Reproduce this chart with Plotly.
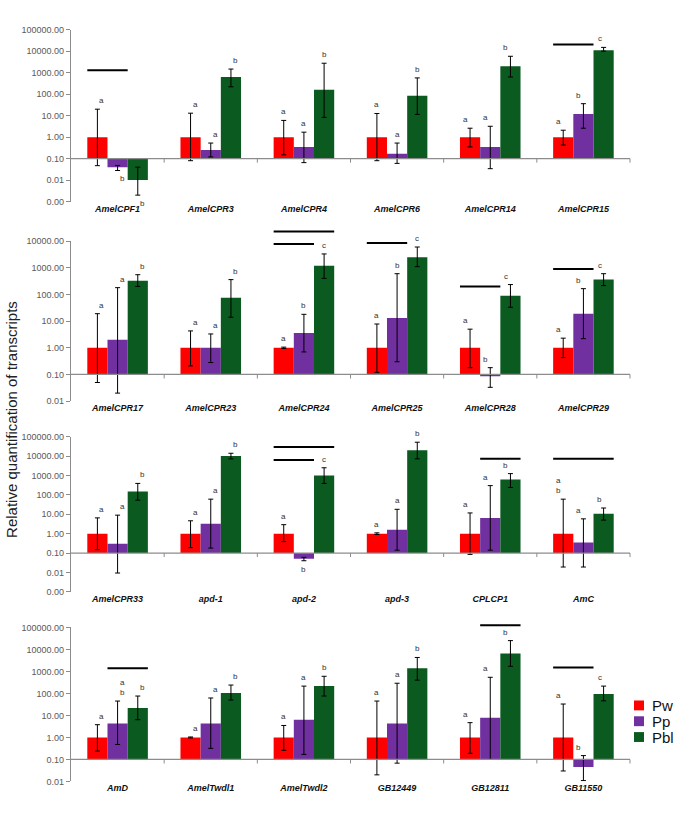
import numpy as np
import plotly.graph_objects as go

series_names = ["Pw", "Pp", "Pbl"]
colors = ["#FF0000", "#7030A0", "#0B5A1F"]
BASE = 0.1
tick_vals = [0.001, 0.01, 0.1, 1, 10, 100, 1000, 10000, 100000]

# ---------------- Panel 1 ----------------
genes_1 = ["AmelCPF1", "AmelCPR3", "AmelCPR4", "AmelCPR6", "AmelCPR14", "AmelCPR15"]
pw_1 = [1, 1, 1, 1, 1, 1]
pw_hi_1 = [20, 13, 6, 12.6, 2.6, 2.1]
pw_lo_1 = [0.047, 0.08, 0.15, 0.08, 0.35, 0.43]
pp_1 = [0.04, 0.25, 0.35, 0.17, 0.35, 12]
pp_hi_1 = [0.048, 0.53, 1.7, 0.53, 3.2, 36]
pp_lo_1 = [0.028, 0.12, 0.065, 0.06, 0.034, 2.6]
pbl_1 = [0.01, 630, 160, 85, 2000, 11000]
pbl_hi_1 = [0.04, 1470, 2750, 570, 5800, 15000]
pbl_lo_1 = [0.002, 220, 8.3, 11.4, 630, 10000]
let_pw_1 = ["a", "a", "a", "a", "a", "a"]
let_pp_1 = ["b", "a", "a", "a", "a", "b"]
let_pbl_1 = ["b", "b", "b", "b", "b", "c"]

# ---------------- Panel 2 ----------------
genes_2 = ["AmelCPR17", "AmelCPR23", "AmelCPR24", "AmelCPR25", "AmelCPR28", "AmelCPR29"]
pw_2 = [1, 1, 1, 1, 1, 1]
pw_hi_2 = [19, 4.3, 1.06, 7.8, 5, 2.3]
pw_lo_2 = [0.05, 0.21, 0.94, 0.12, 0.18, 0.43]
pp_2 = [2.0, 1.0, 3.6, 13, 0.085, 19]
pp_hi_2 = [180, 3.3, 18, 600, 0.18, 165]
pp_lo_2 = [0.02, 0.28, 0.7, 0.3, 0.033, 2.2]
pbl_2 = [330, 75, 1200, 2500, 90, 360]
pbl_hi_2 = [550, 360, 3300, 6000, 235, 600]
pbl_lo_2 = [200, 14, 400, 1100, 33, 215]
let_pw_2 = ["a", "a", "a", "a", "a", "a"]
let_pp_2 = ["a", "a", "b", "b", "b", "b"]
let_pbl_2 = ["b", "b", "c", "c", "c", "c"]

# ---------------- Panel 3 ----------------
genes_3 = ["AmelCPR33", "apd-1", "apd-2", "apd-3", "CPLCP1", "AmC"]
pw_3 = [1, 1, 1, 1, 1, 1]
pw_hi_3 = [6.5, 4.6, 2.9, 1.1, 11.7, 60]
pw_lo_3 = [0.15, 0.19, 0.39, 0.9, 0.085, 0.019]
pp_3 = [0.3, 3.2, 0.05, 1.6, 6.5, 0.35]
pp_hi_3 = [9, 60, 0.06, 18, 300, 5.8]
pp_lo_3 = [0.0093, 0.18, 0.04, 0.14, 0.14, 0.019]
pbl_3 = [150, 10000, 1000, 20000, 620, 10.5]
pbl_hi_3 = [390, 14000, 2500, 52000, 1250, 21]
pbl_lo_3 = [53, 7200, 390, 7200, 240, 5]
let_pw_3 = ["a", "a", "a", "a", "a", "a<br>b"]
let_pp_3 = ["a", "a", "b", "a", "a", "a"]
let_pbl_3 = ["b", "b", "c", "b", "b", "b"]

# ---------------- Panel 4 ----------------
genes_4 = ["AmD", "AmelTwdl1", "AmelTwdl2", "GB12449", "GB12811", "GB11550"]
pw_4 = [1, 1, 1, 1, 1, 1]
pw_hi_4 = [3.8, 1.05, 3.5, 45, 4.7, 33]
pw_lo_4 = [0.24, 0.95, 0.26, 0.02, 0.19, 0.03]
pp_4 = [4.3, 4.3, 6.4, 4.3, 7.9, 0.045]
pp_hi_4 = [45, 62, 215, 290, 540, 0.15]
pp_lo_4 = [0.48, 0.32, 0.17, 0.068, 0.1, 0.011]
pbl_4 = [22, 105, 215, 1380, 6500, 94]
pbl_hi_4 = [76, 240, 600, 4300, 25000, 215]
pbl_lo_4 = [6.4, 50, 76, 400, 1700, 46]
let_pw_4 = ["a", "a", "a", "a", "a", "a"]
let_pp_4 = ["a<br>b", "a", "a", "a", "a", "b"]
let_pbl_4 = ["b", "b", "b", "b", "b", "c"]

# significance lines: (panel, gene index, first series, last series, level)
sig_lines = [
    (1, 0, 0, 1, 1300), (1, 5, 0, 1, 20400),
    (2, 2, 0, 2, 23000), (2, 2, 0, 1, 7800), (2, 3, 0, 1, 8500),
    (2, 4, 0, 1, 200), (2, 5, 0, 1, 900),
    (3, 2, 0, 2, 29500), (3, 2, 0, 1, 6300), (3, 4, 1, 2, 7200), (3, 5, 0, 2, 7200),
    (4, 0, 1, 2, 1380), (4, 4, 1, 2, 126000), (4, 5, 0, 1, 1500),
]
# letters drawn under the error bar: (panel, gene index, series)
letters_below = {(1, 0, 1), (1, 0, 2), (3, 2, 1)}

panels = [
    dict(genes=genes_1, vals=[pw_1, pp_1, pbl_1], hi=[pw_hi_1, pp_hi_1, pbl_hi_1],
         lo=[pw_lo_1, pp_lo_1, pbl_lo_1], let=[let_pw_1, let_pp_1, let_pbl_1],
         rng=(-3, 5), px=(25, 199)),
    dict(genes=genes_2, vals=[pw_2, pp_2, pbl_2], hi=[pw_hi_2, pp_hi_2, pbl_hi_2],
         lo=[pw_lo_2, pp_lo_2, pbl_lo_2], let=[let_pw_2, let_pp_2, let_pbl_2],
         rng=(-2, 4), px=(239, 401)),
    dict(genes=genes_3, vals=[pw_3, pp_3, pbl_3], hi=[pw_hi_3, pp_hi_3, pbl_hi_3],
         lo=[pw_lo_3, pp_lo_3, pbl_lo_3], let=[let_pw_3, let_pp_3, let_pbl_3],
         rng=(-3, 5), px=(437, 594)),
    dict(genes=genes_4, vals=[pw_4, pp_4, pbl_4], hi=[pw_hi_4, pp_hi_4, pbl_hi_4],
         lo=[pw_lo_4, pp_lo_4, pbl_lo_4], let=[let_pw_4, let_pp_4, let_pbl_4],
         rng=(-2, 5), px=(630, 786)),
]

W, H = 685, 826
ML, MR = 71, 55
PW = W - ML - MR
BARGAP = 0.35
bw = (1 - BARGAP) / 3
N = 6

fig = go.Figure()
shapes = []
annotations = []
layout_axes = {}

def xfrac(pos):
    return (pos + 0.5) / N

for p, P in enumerate(panels, start=1):
    sfx = "" if p == 1 else str(p)
    xa, ya = "x" + sfx, "y" + sfx
    lo_r, hi_r = P["rng"]
    def yfrac(v, lo_r=lo_r, hi_r=hi_r):
        return (np.log10(v) - lo_r) / (hi_r - lo_r)
    xs = np.arange(N)
    for k in range(3):
        v = np.array(P["vals"][k], dtype=float)
        hi = np.array(P["hi"][k], dtype=float)
        lo = np.array(P["lo"][k], dtype=float)
        fig.add_trace(go.Bar(
            x=xs, y=v - BASE, base=BASE, name=series_names[k],
            marker=dict(color=colors[k], line=dict(width=0)),
            xaxis=xa, yaxis=ya, showlegend=False, hoverinfo="skip"))
        fig.add_trace(go.Scatter(
            x=xs + (k - 1) * bw, y=v, mode="markers",
            marker=dict(size=1, color="rgba(0,0,0,0)"),
            error_y=dict(type="data", symmetric=False, array=hi - v, arrayminus=v - lo,
                         color="black", thickness=1, width=2.5),
            xaxis=xa, yaxis=ya, showlegend=False, hoverinfo="skip"))
        for i in range(N):
            txt = P["let"][k][i]
            below = (p, i, k) in letters_below
            annotations.append(dict(
                xref=xa + " domain", yref=ya + " domain",
                x=xfrac(i + (k - 1) * bw),
                y=yfrac(lo[i]) if below else yfrac(hi[i]),
                yanchor="top" if below else "bottom",
                yshift=-2 if below else 2,
                text=txt, showarrow=False,
                font=dict(size=8, color="#333333", family="Liberation Sans, Arial")))
    # baseline at 0.1
    shapes.append(dict(type="line", xref=xa + " domain", yref=ya + " domain",
                       x0=0, x1=1, y0=yfrac(BASE), y1=yfrac(BASE),
                       line=dict(color="#8C8C8C", width=1.2)))
    for j in range(1, N + 1):
        shapes.append(dict(type="line", xref=xa + " domain", yref=ya + " domain",
                           x0=j / N, x1=j / N, ysizemode="pixel", yanchor=yfrac(BASE),
                           y0=0, y1=-4, line=dict(color="#8C8C8C", width=1)))
    top_px, bot_px = P["px"]
    layout_axes["xaxis" + sfx] = dict(
        domain=[0, 1], anchor=ya, range=[-0.5, N - 0.5],
        tickvals=list(range(N)),
        ticktext=["<b><i>%s</i></b>" % g for g in P["genes"]],
        tickfont=dict(size=9, color="#111111", family="Liberation Sans, Arial"),
        showline=False, showgrid=False, zeroline=False, ticks="", fixedrange=True)
    layout_axes["yaxis" + sfx] = dict(
        domain=[1 - bot_px / H, 1 - top_px / H], anchor=xa, type="log",
        range=[lo_r, hi_r],
        tickvals=[t for t in tick_vals if lo_r <= np.log10(t) <= hi_r],
        tickformat=".2f",
        tickfont=dict(size=9, color="#595959", family="Liberation Sans, Arial"),
        showline=True, linecolor="#8C8C8C", linewidth=1.2,
        ticks="outside", ticklen=4, tickcolor="#8C8C8C",
        showgrid=False, zeroline=False, fixedrange=True)

for (p, i, k0, k1, lvl) in sig_lines:
    P = panels[p - 1]
    lo_r, hi_r = P["rng"]
    sfx = "" if p == 1 else str(p)
    yv = (np.log10(lvl) - lo_r) / (hi_r - lo_r)
    shapes.append(dict(type="line", xref="x" + sfx + " domain", yref="y" + sfx + " domain",
                       x0=xfrac(i + (k0 - 1) * bw - bw / 2), x1=xfrac(i + (k1 - 1) * bw + bw / 2),
                       y0=yv, y1=yv, line=dict(color="black", width=2)))

# manual legend (swatch + label)
legend_rows_px = [709, 725, 741]
for k, name in enumerate(series_names):
    yc = legend_rows_px[k]
    shapes.append(dict(type="rect", xref="paper", yref="paper",
                       x0=(634 - ML) / PW, x1=(644 - ML) / PW,
                       y0=1 - (yc + 5) / H, y1=1 - (yc - 5) / H,
                       fillcolor=colors[k], line=dict(width=0)))
    annotations.append(dict(xref="paper", yref="paper", x=(650 - ML) / PW, y=1 - yc / H,
                            xanchor="left", yanchor="middle", text=name, showarrow=False,
                            font=dict(size=15, color="#111111", family="Liberation Sans, Arial")))

annotations.append(dict(
    xref="paper", yref="paper", x=(12 - ML) / PW, y=1 - 420 / H,
    text="Relative quantification of transcripts", textangle=-90, showarrow=False,
    xanchor="center", yanchor="middle",
    font=dict(size=15, color="#222222", family="Liberation Sans, Arial")))

fig.update_layout(
    width=W, height=H, margin=dict(l=ML, r=MR, t=0, b=0),
    paper_bgcolor="white", plot_bgcolor="white",
    barmode="group", bargap=BARGAP, bargroupgap=0,
    shapes=shapes, annotations=annotations,
    showlegend=False,
    **layout_axes)

fig.write_html("out.html", config={"displayModeBar": False},
               post_script="document.body.style.margin='0px';document.body.style.overflow='hidden';")
